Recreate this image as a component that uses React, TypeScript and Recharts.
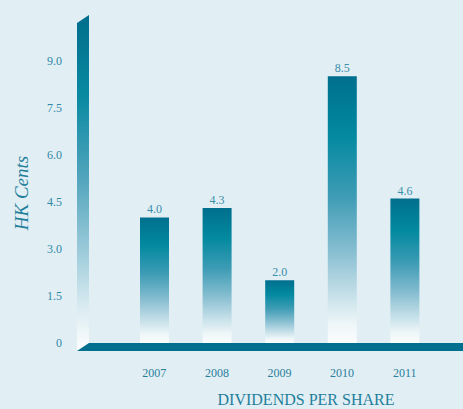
import { BarChart, Bar, XAxis, YAxis, LabelList } from 'recharts';

const years = ['2007', '2008', '2009', '2010', '2011'];
const dividends = [4.0, 4.3, 2.0, 8.5, 4.6];
const yTicks = [0, 1.5, 3.0, 4.5, 6.0, 7.5, 9.0];

const data = years.map((year, i) => ({ year, value: dividends[i] }));

// layout
const W = 463;
const H = 409;
const margin = { top: 15, right: 0, bottom: 0, left: 0 };
const Y_AXIS_W = 89;
const X_AXIS_H = 66;
const plotLeft = margin.left + Y_AXIS_W;
const plotTop = margin.top;
const plotBottom = H - margin.bottom - X_AXIS_H;
const DEPTH_X = 12;
const DEPTH_Y = 8;

const SERIF = "'Liberation Serif', 'Times New Roman', serif";
const BG = '#e1eef4';
const FLOOR = '#00708e';

export default function App() {
  const wall = [
    [plotLeft - DEPTH_X, plotTop + DEPTH_Y],
    [plotLeft, plotTop],
    [plotLeft, plotBottom],
    [plotLeft - DEPTH_X, plotBottom + DEPTH_Y],
  ].map(p => p.join(',')).join(' ');
  const floor = [
    [plotLeft, plotBottom],
    [W, plotBottom],
    [W, plotBottom + DEPTH_Y],
    [plotLeft - DEPTH_X, plotBottom + DEPTH_Y],
  ].map(p => p.join(',')).join(' ');

  return (
    <div style={{ position: 'absolute', left: 0, top: 0, width: W, height: H, background: BG }}>
      <BarChart width={W} height={H} data={data} margin={margin}>
        <defs>
          <linearGradient id="barFill" x1="0" y1="0" x2="0" y2="1">
            <stop offset="0%" stopColor="#006f8d" />
            <stop offset="22%" stopColor="#0289a0" />
            <stop offset="45%" stopColor="#3e9cb5" />
            <stop offset="65%" stopColor="#85bdd0" />
            <stop offset="82%" stopColor="#c6e0e9" />
            <stop offset="93%" stopColor="#eef6f8" />
            <stop offset="100%" stopColor="#fbfdfe" />
          </linearGradient>
        </defs>
        <XAxis
          dataKey="year"
          height={X_AXIS_H}
          axisLine={false}
          tickLine={false}
          tickSize={0}
          tickMargin={25}
          padding={{ left: 34, right: 27 }}
          tick={{ fill: '#2a7f9b', fontSize: 12, fontFamily: SERIF }}
        />
        <YAxis
          width={Y_AXIS_W}
          domain={[0, 10.45]}
          ticks={yTicks}
          interval={0}
          allowDataOverflow
          axisLine={false}
          tickLine={false}
          tickSize={0}
          tickMargin={27}
          tickFormatter={(v: number) => (v === 0 ? '0' : v.toFixed(1))}
          tick={{ fill: '#2f89a7', fontSize: 12, fontFamily: SERIF }}
        />
        <Bar dataKey="value" fill="url(#barFill)" barSize={29} isAnimationActive={false}>
          <LabelList
            dataKey="value"
            position="top"
            offset={4}
            formatter={(v: number) => v.toFixed(1)}
            style={{ fill: '#3a8fab', fontSize: 12, fontFamily: SERIF }}
          />
        </Bar>
      </BarChart>
      <svg
        width={W}
        height={H}
        style={{ position: 'absolute', left: 0, top: 0, pointerEvents: 'none' }}
      >
        <defs>
          <linearGradient id="wallFill" gradientUnits="userSpaceOnUse" x1="0" y1={plotTop} x2="0" y2={plotBottom}>
            <stop offset="0%" stopColor="#006d8b" />
            <stop offset="25%" stopColor="#0a8aa2" />
            <stop offset="50%" stopColor="#52a5bd" />
            <stop offset="72%" stopColor="#9ccbda" />
            <stop offset="88%" stopColor="#d6e9f0" />
            <stop offset="100%" stopColor="#f7fbfc" />
          </linearGradient>
        </defs>
        <polygon points={wall} fill="url(#wallFill)" />
        <polygon points={floor} fill={FLOOR} />
        <text
          transform={`translate(21, 193) rotate(-90)`}
          textAnchor="middle"
          dominantBaseline="central"
          fill="#1f7f9b"
          fontSize={19}
          fontStyle="italic"
          fontFamily={SERIF}
        >
          HK Cents
        </text>
        <text
          x={306}
          y={405}
          textAnchor="middle"
          fill="#1f7f9b"
          fontSize={16}
          fontFamily={SERIF}
        >
          DIVIDENDS PER SHARE
        </text>
      </svg>
    </div>
  );
}
